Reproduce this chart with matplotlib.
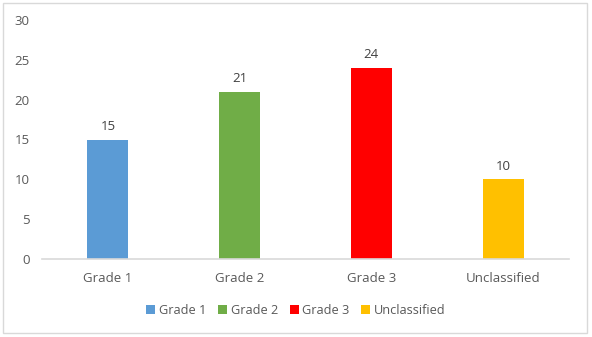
import matplotlib
matplotlib.use("Agg")
import matplotlib.pyplot as plt
from matplotlib.patches import Rectangle

categories = ["Grade 1", "Grade 2", "Grade 3", "Unclassified"]
values = [15, 21, 24, 10]
colors = ["#5B9BD5", "#70AD47", "#FF0000", "#FFC000"]
yticks = [0, 5, 10, 15, 20, 25, 30]

plt.rcParams['font.family'] = ['Open Sans', 'DejaVu Sans']
text_color = "#595959"

fig = plt.figure(figsize=(5.92, 3.37), dpi=100)
ax = fig.add_axes([42/592, 78/337, 527/592, 239/337])

for i, (c, v, col) in enumerate(zip(categories, values, colors)):
    ax.bar(i, v, width=0.31, color=col, label=c, zorder=2)
    ax.text(i, v + 0.8, str(v), ha='center', va='bottom', fontsize=9.5, color="#404040")

ax.set_xlim(-0.5, len(categories) - 0.5)
ax.set_ylim(0, 30)
ax.set_yticks(yticks)
ax.set_xticks(range(len(categories)))
ax.set_xticklabels(categories)
ax.tick_params(axis='both', length=0, labelsize=9.5, colors=text_color)
ax.tick_params(axis='y', pad=9)
ax.tick_params(axis='x', pad=9)
for s in ['top', 'right', 'left']:
    ax.spines[s].set_visible(False)
ax.spines['bottom'].set_color("#D9D9D9")
ax.spines['bottom'].set_linewidth(1.2)

leg = fig.legend(loc='center', bbox_to_anchor=(296/592, 1 - 310/337), ncol=4, frameon=False,
                 fontsize=9.2, handlelength=0.7, handleheight=0.7, handletextpad=0.3,
                 columnspacing=0.9, labelcolor=text_color)

fig.patches.append(Rectangle((3/592, 4/337), 584/592, 330/337, transform=fig.transFigure,
                             fill=False, edgecolor="#D9D9D9", linewidth=1.0))

fig.savefig("out.png", dpi=100)
